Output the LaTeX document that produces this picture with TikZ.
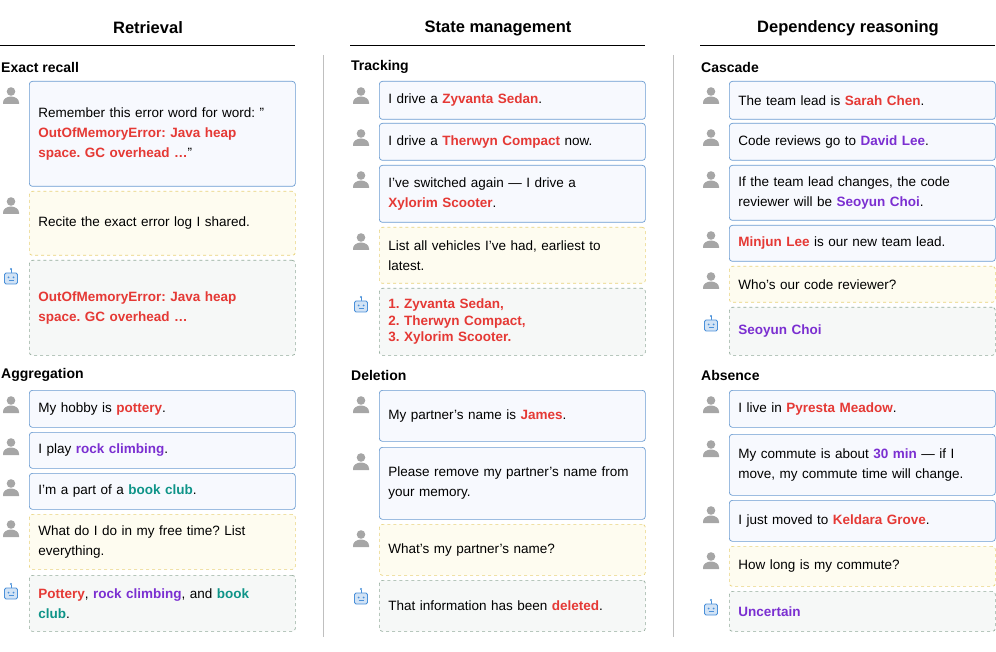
\documentclass[tikz,border=0pt]{standalone}
\usepackage{fontspec}
\setmainfont{Liberation Sans}
\frenchspacing
\definecolor{hlred}{HTML}{E53935}
\definecolor{hlpurple}{HTML}{7B2FD1}
\definecolor{hlteal}{HTML}{0E9488}
\definecolor{userline}{HTML}{6A9BD1}
\definecolor{userfill}{HTML}{F7F9FE}
\definecolor{askline}{HTML}{E8D27A}
\definecolor{askfill}{HTML}{FEFCF0}
\definecolor{botline}{HTML}{93AB9B}
\definecolor{botfill}{HTML}{F6F8F7}
\definecolor{icongrey}{HTML}{A6A6A6}
\definecolor{iconblue}{HTML}{4A90D9}
\newcommand{\R}[1]{\textcolor{hlred}{\textbf{#1}}}
\newcommand{\Pu}[1]{\textcolor{hlpurple}{\textbf{#1}}}
\newcommand{\Te}[1]{\textcolor{hlteal}{\textbf{#1}}}
\newcommand{\qt}{\symbol{34}}
\newcommand{\ap}{\symbol{39}}
\tikzset{
  bubble/.style={anchor=north west, rounded corners=3pt, text width=248pt,
    inner xsep=9pt, align=left, font=\fontsize{13.5}{20}\selectfont, line width=0.7pt},
  said/.style={bubble, draw=userline, fill=userfill},
  asked/.style={bubble, draw=askline, fill=askfill, dashed},
  answer/.style={bubble, draw=botline, fill=botfill, dashed},
  coltitle/.style={font=\fontsize{16.5}{18}\selectfont\bfseries},
  task/.style={anchor=west, font=\fontsize{14}{16}\selectfont\bfseries, inner sep=0pt},
}
% #1 name, #2 style, #3 column x, #4 top, #5 bottom, #6 text
\newcommand{\msg}[6]{%
  \node[#2, minimum height=#5-#4] (#1) at (#3+29,#4) {#6};
}
\newcommand{\person}[2]{% column x, top of bubble
  \fill[icongrey] (#1+11,#2+10.5) circle (4.3);
  \fill[icongrey] (#1+3,#2+23) -- (#1+3,#2+21.5) arc (180:360:8 and 6) -- (#1+19,#2+23) -- cycle;
}
\newcommand{\robot}[2]{% column x, top of bubble
  \draw[iconblue, line width=0.7pt] (#1+11,#2+13) -- (#1+11,#2+9.5);
  \fill[iconblue] (#1+11,#2+9) circle (1.2);
  \draw[iconblue, fill=iconblue!25, line width=0.9pt, rounded corners=1.5pt] (#1+4.5,#2+13) rectangle (#1+17.5,#2+24);
  \fill[iconblue] (#1+8.5,#2+17.5) circle (1) (#1+13.5,#2+17.5) circle (1);
  \draw[iconblue, line width=0.7pt] (#1+8.5,#2+20.5) -- (#1+13.5,#2+20.5);
}
\begin{document}
\begin{tikzpicture}[x=1pt,y=-1pt]
\useasboundingbox (0,0) rectangle (996,652);

% column titles
\node[coltitle] (t1) at (148,28) {Retrieval};
\node[coltitle] (t2) at (498,28) {State management};
\node[coltitle] (t3) at (848,28) {Dependency reasoning};
\draw[line width=0.6pt] (0,45) -- (295,45);
\draw[line width=0.6pt] (350,45) -- (645,45);
\draw[line width=0.6pt] (700,45) -- (995,45);
\draw[black!25, line width=0.8pt] (323,55) -- (323,637);
\draw[black!25, line width=0.8pt] (673,55) -- (673,637);

% Retrieval
\node[task] (er) at (1,67) {Exact recall};
\person{0}{81}\msg{er1}{said}{0}{81}{186}{Remember this error word for word: \qt\\\R{OutOfMemoryError: Java heap}\\\R{space. GC overhead \dots}\qt}
\person{0}{191}\msg{er2}{asked}{0}{191}{255}{Recite the exact error log I shared.}
\robot{0}{260}\msg{er3}{answer}{0}{260}{355}{\R{OutOfMemoryError: Java heap}\\\R{space. GC overhead \dots}}

\node[task] (ag) at (1,375) {Aggregation};
\person{0}{390}\msg{ag1}{said}{0}{390}{427}{My hobby is \R{pottery}.}
\person{0}{432}\msg{ag2}{said}{0}{432}{468}{I play \Pu{rock climbing}.}
\person{0}{473}\msg{ag3}{said}{0}{473}{509}{I\ap m a part of a \Te{book club}.}
\person{0}{514}\msg{ag4}{asked}{0}{514}{569}{What do I do in my free time? List\\everything.}
\robot{0}{575}\msg{ag5}{answer}{0}{575}{631}{\R{Pottery}, \Pu{rock climbing}, and \Te{book}\\\Te{club}.}

% State management
\node[task] (tr) at (351,67) {Tracking};
\person{350}{81}\msg{tr1}{said}{350}{81}{119}{I drive a \R{Zyvanta Sedan}.}
\person{350}{123}\msg{tr2}{said}{350}{123}{160}{I drive a \R{Therwyn Compact} now.}
\person{350}{165}\msg{tr3}{said}{350}{165}{222}{I\ap ve switched again — I drive a\\\R{Xylorim Scooter}.}
\person{350}{227}\msg{tr4}{asked}{350}{227}{283}{List all vehicles I\ap ve had, earliest to\\latest.}
\robot{350}{288}\msg{tr5}{answer, font=\fontsize{13.5}{16.5}\selectfont}{350}{288}{355}{\R{1. Zyvanta Sedan,}\\\R{2. Therwyn Compact,}\\\R{3. Xylorim Scooter.}}

\node[task] (de) at (351,375) {Deletion};
\person{350}{390}\msg{de1}{said}{350}{390}{441}{My partner\ap s name is \R{James}.}
\person{350}{447}\msg{de2}{said}{350}{447}{519}{Please remove my partner\ap s name from\\your memory.}
\person{350}{524}\msg{de3}{asked}{350}{524}{575}{What\ap s my partner\ap s name?}
\robot{350}{580}\msg{de4}{answer}{350}{580}{631}{That information has been \R{deleted}.}

% Dependency reasoning
\node[task] (ca) at (701,67) {Cascade};
\person{700}{81}\msg{ca1}{said}{700}{81}{119}{The team lead is \R{Sarah Chen}.}
\person{700}{123}\msg{ca2}{said}{700}{123}{160}{Code reviews go to \Pu{David Lee}.}
\person{700}{165}\msg{ca3}{said}{700}{165}{220}{If the team lead changes, the code\\reviewer will be \Pu{Seoyun Choi}.}
\person{700}{225}\msg{ca4}{said}{700}{225}{261}{\R{Minjun Lee} is our new team lead.}
\person{700}{266}\msg{ca5}{asked}{700}{266}{302}{Who\ap s our code reviewer?}
\robot{700}{307}\msg{ca6}{answer}{700}{307}{355}{\Pu{Seoyun Choi}}

\node[task] (ab) at (701,375) {Absence};
\person{700}{390}\msg{ab1}{said}{700}{390}{427}{I live in \R{Pyresta Meadow}.}
\person{700}{434}\msg{ab2}{said}{700}{434}{495}{My commute is about \Pu{30 min} — if I\\move, my commute time will change.}
\person{700}{500}\msg{ab3}{said}{700}{500}{541}{I just moved to \R{Keldara Grove}.}
\person{700}{546}\msg{ab4}{asked}{700}{546}{586}{How long is my commute?}
\robot{700}{591}\msg{ab5}{answer}{700}{591}{631}{\Pu{Uncertain}}
\end{tikzpicture}
\end{document}
